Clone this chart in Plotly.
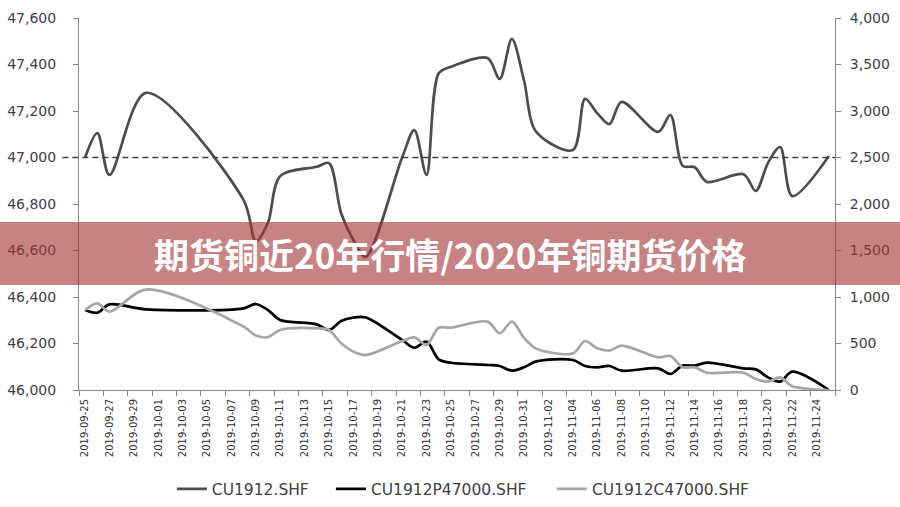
import plotly.graph_objects as go
from datetime import datetime, timedelta

dates = ["2019-09-25", "2019-09-26", "2019-09-27", "2019-09-30", "2019-10-08", "2019-10-09",
         "2019-10-10", "2019-10-11", "2019-10-14", "2019-10-15", "2019-10-16", "2019-10-17",
         "2019-10-18", "2019-10-21", "2019-10-22", "2019-10-23", "2019-10-24", "2019-10-25",
         "2019-10-28", "2019-10-29", "2019-10-30", "2019-10-31", "2019-11-01", "2019-11-04",
         "2019-11-05", "2019-11-06", "2019-11-07", "2019-11-08", "2019-11-11", "2019-11-12",
         "2019-11-13", "2019-11-14", "2019-11-15", "2019-11-18", "2019-11-19", "2019-11-20",
         "2019-11-21", "2019-11-22", "2019-11-25"]

cu1912 = [47000, 47105, 46925, 47278, 46817, 46640,
          46720, 46920, 46960, 46976, 46760, 46645,
          46572, 47000, 47118, 46925, 47362, 47390,
          47428, 47338, 47510, 47330, 47110, 47032,
          47252, 47191, 47144, 47239, 47110, 47183,
          46965, 46958, 46895, 46928, 46856, 46976,
          47045, 46834, 47006]

put_p47000 = [860, 831, 921, 868, 878, 925,
              860, 753, 706, 645, 742, 778,
              781, 538, 455, 520, 330, 293,
              269, 258, 208, 244, 308, 323,
              258, 244, 258, 208, 233, 172,
              262, 262, 294, 233, 222, 136,
              90, 197, 0]

call_c47000 = [860, 932, 842, 1080, 681, 585,
               568, 645, 663, 645, 502, 412,
               376, 527, 566, 484, 670, 670,
               735, 609, 735, 560, 445, 394,
               527, 448, 423, 477, 351, 366,
               244, 244, 186, 186, 118, 90,
               136, 40, 0]

left_ticks = [46000, 46200, 46400, 46600, 46800, 47000, 47200, 47400, 47600]
right_ticks = [0, 500, 1000, 1500, 2000, 2500, 3000, 3500, 4000]
ref_level = 47000
title_text = "期货铜近20年行情/2020年铜期货价格"

start = datetime(2019, 9, 25)
label_dates = [start + timedelta(days=2 * k) for k in range(31)]
label_text = [d.strftime("%Y-%m-%d") for d in label_dates]
boundary = [start - timedelta(hours=12) + timedelta(days=2 * k) for k in range(32)]

tick_font = dict(family="DejaVu Sans", size=14, color="#404040")
legend_font = dict(family="DejaVu Sans", size=15.5, color="#404040")

fig = go.Figure()
fig.add_trace(go.Scatter(x=dates, y=cu1912, name="CU1912.SHF", mode="lines",
                         line=dict(color="#4d4d4d", width=2.7, shape="spline", smoothing=0.9),
                         yaxis="y", legend="legend"))
fig.add_trace(go.Scatter(x=dates, y=put_p47000, name="CU1912P47000.SHF", mode="lines",
                         line=dict(color="#000000", width=2.7, shape="spline", smoothing=0.9),
                         yaxis="y2", legend="legend2"))
fig.add_trace(go.Scatter(x=dates, y=call_c47000, name="CU1912C47000.SHF", mode="lines",
                         line=dict(color="#a6a6a6", width=2.7, shape="spline", smoothing=0.9),
                         yaxis="y2", legend="legend3"))

fig.add_shape(type="line", xref="paper", yref="y", x0=-0.022, x1=1.0, y0=ref_level, y1=ref_level,
              line=dict(color="#404040", width=1.5, dash="6px,4px"))

fig.add_shape(type="rect", xref="paper", yref="paper", x0=-0.11, x1=1.1, y0=0.2823, y1=0.4516,
              fillcolor="rgba(165,55,55,0.62)", line=dict(width=0), layer="above")
fig.add_annotation(text="<b>" + title_text + "</b>", xref="paper", yref="paper",
                   x=0.4907, y=0.3656, showarrow=False, xanchor="center", yanchor="middle",
                   font=dict(family="Noto Sans CJK SC", size=35, color="white"))

def leg(xp):
    return dict(orientation="h", x=xp, xanchor="left", y=0.035, yanchor="middle",
                xref="paper", yref="container", font=legend_font, itemwidth=30,
                bgcolor="rgba(0,0,0,0)")

fig.update_layout(
    width=900, height=507,
    margin=dict(l=79, r=65, t=18, b=117, autoexpand=False),
    paper_bgcolor="white", plot_bgcolor="white",
    showlegend=True,
    legend=leg(0.1243 - 0.0015),
    legend2=leg(0.3347 - 0.0015),
    legend3=leg(0.627 - 0.0015),
    xaxis=dict(type="date", range=["2019-09-24 12:00", "2019-11-25 12:00"],
               automargin=False,
               tickmode="array", tickvals=label_dates, ticktext=label_text,
               tickangle=-90, ticks="", showgrid=False, zeroline=False,
               showline=True, linecolor="#868686", linewidth=1,
               tickfont=dict(family="DejaVu Sans", size=10, color="#333333"),
               ticklabelstandoff=4,
               minor=dict(tickmode="array", tickvals=boundary, ticks="outside",
                          ticklen=5, tickcolor="#868686", showgrid=False)),
    yaxis=dict(range=[46000, 47600], tickvals=left_ticks, tickformat=",d", automargin=False,
               showgrid=False, zeroline=False, showline=True, linecolor="#868686",
               ticks="outside", ticklen=5, tickcolor="#868686", tickfont=tick_font,
               ticklabelstandoff=14),
    yaxis2=dict(range=[0, 4000], tickvals=right_ticks, tickformat=",d", overlaying="y",
                side="right", showgrid=False, zeroline=False, showline=True, automargin=False,
                linecolor="#868686", ticks="outside", ticklen=5, tickcolor="#868686",
                tickfont=tick_font, ticklabelstandoff=6),
)

fig.write_html("out.html")
